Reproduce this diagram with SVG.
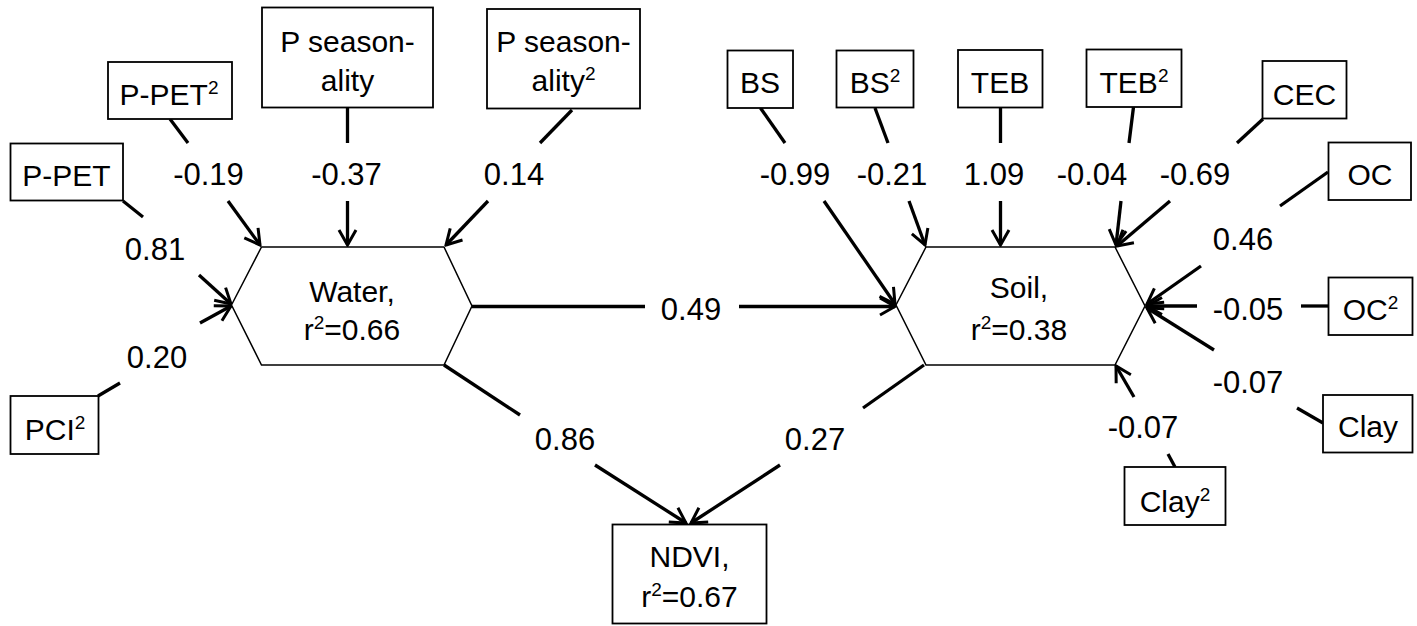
<svg xmlns="http://www.w3.org/2000/svg" width="1417" height="626" viewBox="0 0 1417 626">
<style>
.box{fill:#fff;stroke:#000;stroke-width:1.8}
.hex{fill:#fff;stroke:#000;stroke-width:1.5}
.t{font-family:"Liberation Sans",Arial,sans-serif;font-size:30px;fill:#000;text-anchor:middle}
.l{font-family:"Liberation Sans",Arial,sans-serif;font-size:31px;fill:#000;text-anchor:middle}
.c line{stroke:#000;stroke-width:3.3;fill:none}
.a{marker-end:url(#arr)}
.s{font-size:19px}
</style>
<defs>
<marker id="arr" viewBox="-18 -11 20 22" refX="0" refY="0" markerWidth="20" markerHeight="22" markerUnits="userSpaceOnUse" orient="auto">
<path d="M-15,-8.5 L0,0 L-15,8.5" fill="none" stroke="#000" stroke-width="3"/>
</marker>
</defs>

<g id="connectors" class="c">
<line x1="170" y1="119" x2="188" y2="143"/>
<line class="a" x1="228" y1="201" x2="260" y2="245"/>
<line x1="347.5" y1="108" x2="347.5" y2="143"/>
<line class="a" x1="347.5" y1="201" x2="347.5" y2="245"/>
<line x1="572" y1="110" x2="540" y2="143"/>
<line class="a" x1="488" y1="201" x2="446" y2="245"/>
<line x1="123" y1="201" x2="143" y2="217"/>
<line class="a" x1="199" y1="275" x2="231" y2="304"/>
<line x1="98" y1="396" x2="120" y2="383"/>
<line class="a" x1="200" y1="323" x2="231" y2="306"/>
<line x1="472" y1="306.5" x2="645" y2="306.5"/>
<line class="a" x1="739" y1="306.5" x2="895" y2="306.5"/>
<line x1="444" y1="365" x2="520" y2="415"/>
<line class="a" x1="595" y1="465" x2="686" y2="523"/>
<line x1="924" y1="365" x2="863" y2="408"/>
<line class="a" x1="780" y1="465" x2="691" y2="523"/>
<line x1="760.5" y1="108" x2="785" y2="143"/>
<line class="a" x1="824" y1="201" x2="895" y2="304"/>
<line x1="875" y1="108" x2="888" y2="143"/>
<line class="a" x1="909" y1="201" x2="925" y2="245"/>
<line x1="1000.5" y1="108" x2="1000.5" y2="143"/>
<line class="a" x1="1000.5" y1="201" x2="1000.5" y2="245"/>
<line x1="1133.5" y1="107" x2="1129" y2="143"/>
<line class="a" x1="1121" y1="201" x2="1116" y2="245"/>
<line x1="1263" y1="119" x2="1237" y2="143"/>
<line class="a" x1="1170" y1="201" x2="1117" y2="246"/>
<line x1="1328" y1="172" x2="1280" y2="206"/>
<line class="a" x1="1201" y1="266" x2="1147" y2="304"/>
<line x1="1328" y1="306" x2="1301" y2="306"/>
<line class="a" x1="1197" y1="306" x2="1147" y2="306"/>
<line x1="1323" y1="423" x2="1297" y2="408"/>
<line class="a" x1="1214" y1="350" x2="1147" y2="308"/>
<line x1="1175" y1="467" x2="1168" y2="454"/>
<line class="a" x1="1134" y1="397" x2="1116" y2="366"/>
</g>

<g class="l">
<text x="208.5" y="185">-0.19</text>
<text x="346.5" y="185">-0.37</text>
<text x="514" y="185">0.14</text>
<text x="155" y="260">0.81</text>
<text x="157" y="368">0.20</text>
<text x="691" y="320">0.49</text>
<text x="565" y="450">0.86</text>
<text x="815" y="450">0.27</text>
<text x="795" y="185">-0.99</text>
<text x="892" y="185">-0.21</text>
<text x="994" y="185">1.09</text>
<text x="1092" y="185">-0.04</text>
<text x="1195" y="185">-0.69</text>
<text x="1243" y="250">0.46</text>
<text x="1248" y="320">-0.05</text>
<text x="1248" y="393">-0.07</text>
<text x="1143" y="438">-0.07</text>
</g>

<g id="water">
<polygon class="hex" points="231.5,305 261.5,247 444,247 472,306 444,365 261.5,365"/>
<text class="t" x="352" y="302">Water,</text>
<text class="t" x="352" y="340">r<tspan class="s" dy="-11">2</tspan><tspan dy="11">=0.66</tspan></text>
</g>
<g id="soil">
<polygon class="hex" points="896,305 926,247 1115,247 1145,306 1115,365 926,365"/>
<text class="t" x="1019" y="298">Soil,</text>
<text class="t" x="1019" y="340">r<tspan class="s" dy="-11">2</tspan><tspan dy="11">=0.38</tspan></text>
</g>
<g id="ndvi">
<rect class="box" x="612.5" y="524.5" width="154" height="99"/>
<text class="t" x="689.5" y="567">NDVI,</text>
<text class="t" x="689.5" y="607">r<tspan class="s" dy="-11">2</tspan><tspan dy="11">=0.67</tspan></text>
</g>

<g id="ppet">
<rect class="box" x="10.5" y="143.5" width="112.5" height="57"/>
<text class="t" x="66.5" y="185.5">P-PET</text>
</g>
<g id="ppet2">
<rect class="box" x="108" y="62" width="124" height="57"/>
<text class="t" x="169" y="105">P-PET<tspan class="s" dy="-11">2</tspan></text>
</g>
<g id="pseason">
<rect class="box" x="262" y="7.5" width="171" height="100"/>
<text class="t" x="347.5" y="52">P season-</text>
<text class="t" x="347.5" y="91">ality</text>
</g>
<g id="pseason2">
<rect class="box" x="487" y="9" width="153" height="99.5"/>
<text class="t" x="563.5" y="52">P season-</text>
<text class="t" x="563.5" y="91">ality<tspan class="s" dy="-11">2</tspan></text>
</g>
<g id="pci2">
<rect class="box" x="10.5" y="396" width="88" height="58"/>
<text class="t" x="55" y="439.5">PCI<tspan class="s" dy="-11">2</tspan></text>
</g>
<g id="bs">
<rect class="box" x="727.5" y="50.5" width="65.5" height="57.5"/>
<text class="t" x="760" y="93">BS</text>
</g>
<g id="bs2">
<rect class="box" x="836.5" y="50.5" width="77" height="57"/>
<text class="t" x="875" y="93">BS<tspan class="s" dy="-11">2</tspan></text>
</g>
<g id="teb">
<rect class="box" x="958" y="50" width="84.5" height="57.5"/>
<text class="t" x="1000" y="93">TEB</text>
</g>
<g id="teb2">
<rect class="box" x="1086.5" y="49.5" width="95" height="57.5"/>
<text class="t" x="1134" y="93">TEB<tspan class="s" dy="-11">2</tspan></text>
</g>
<g id="cec">
<rect class="box" x="1262.5" y="61" width="84" height="57.5"/>
<text class="t" x="1304.5" y="105">CEC</text>
</g>
<g id="oc">
<rect class="box" x="1328.5" y="142.5" width="82.5" height="57.5"/>
<text class="t" x="1370" y="185">OC</text>
</g>
<g id="oc2">
<rect class="box" x="1328.5" y="277.5" width="84" height="57.5"/>
<text class="t" x="1370.5" y="320">OC<tspan class="s" dy="-11">2</tspan></text>
</g>
<g id="clay">
<rect class="box" x="1323" y="395" width="89.5" height="57.5"/>
<text class="t" x="1368" y="437">Clay</text>
</g>
<g id="clay2">
<rect class="box" x="1124.5" y="467" width="101" height="58"/>
<text class="t" x="1175" y="512">Clay<tspan class="s" dy="-11">2</tspan></text>
</g>
</svg>
